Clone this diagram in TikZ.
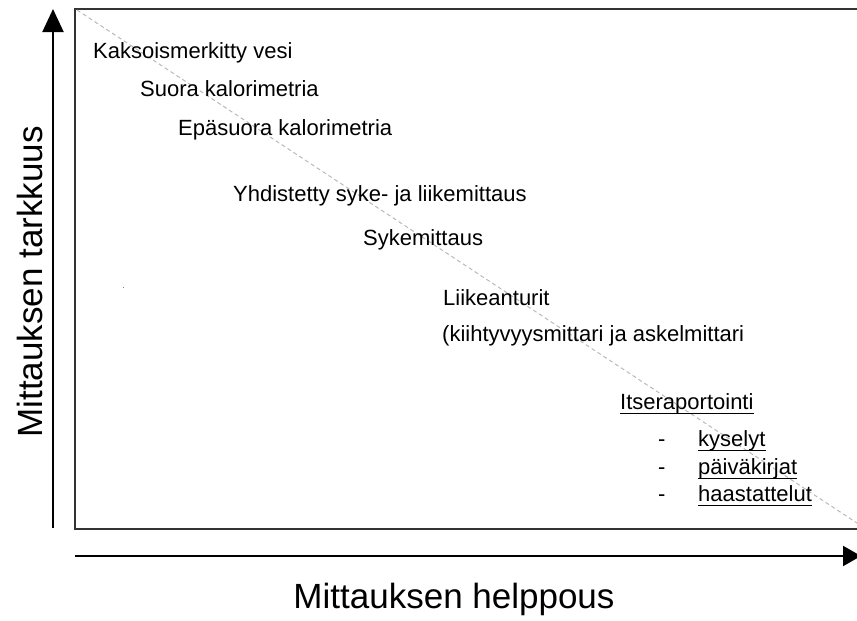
\documentclass[tikz,border=0pt]{standalone}
\usepackage{fontspec}
\setmainfont{Liberation Sans}
\usetikzlibrary{arrows.meta}

\begin{document}
\begin{tikzpicture}[x=1pt, y=-1pt]
  \tikzset{lbl/.style={inner sep=0pt, anchor=base west, font=\fontsize{22}{26}\selectfont},
           axlbl/.style={inner sep=0pt, anchor=base, font=\fontsize{35}{42}\selectfont}}
  \useasboundingbox (0,0) rectangle (857,621);

	%box
 \def\xl{75};
 \def\xr{857};
 \def\yt{9};
 \def\yb{529};
    \coordinate (TL) at (\xl,\yt);
    \coordinate (TR) at (\xr,\yt);
    \coordinate (BL) at (\xl,\yb);
    \coordinate (BR) at (\xr,\yb);
    \draw[line width=1.6pt, black!80] (TR) -- (TL) -- (BL) -- (BR);

	%diagonal
    \coordinate (D1) at (77,10);
    \coordinate (D2) at (857,523);
    \draw[gray!55, line width=1pt, dash pattern=on 4pt off 3pt] (D1) -- (D2);

	%axes
    \coordinate (Y0) at (53,528);
    \coordinate (Y1) at (53,9);
    \coordinate (X0) at (75,556);
    \coordinate (X1) at (861,556);
    \draw[line width=2pt, -{Triangle[width=21pt,length=23pt]}] (Y0) -- (Y1);
    \draw[line width=2pt, -{Triangle[width=20pt,length=18pt]}] (X0) -- (X1);

    \node[axlbl, rotate=90] (ytxt) at (42,282) {Mittauksen tarkkuus};
    \node[axlbl] (xtxt) at (454,608) {Mittauksen helppous};

	%methods
    \foreach \x/\y/\txt/\name in {93/58/Kaksoismerkitty vesi/kv, 140/96/Suora kalorimetria/sk,
        178/135/Epäsuora kalorimetria/ek, 233/201/Yhdistetty syke- ja liikemittaus/yl,
        363/245/Sykemittaus/sy, 443/305/Liikeanturit/la,
        442/341/(kiihtyvyysmittari ja askelmittari/km, 620/409/Itseraportointi/ir}{
        \node[lbl] (\name) at (\x,\y) {\txt};
    }

    \foreach \y/\txt/\name in {446/kyselyt/ky, 474/päiväkirjat/pk, 501/haastattelut/ha}{
        \node[lbl] (d\name) at (658,\y) {-};
        \node[lbl] (\name) at (698,\y) {\txt};
    }

	%underlines
    \foreach \name in {ir,ky,pk,ha}{
        \draw[line width=1pt] ([yshift=-4pt]\name.base west) -- ([yshift=-4pt]\name.base east);
    }

    \fill[gray] (122.5,286.5) rectangle (124,288);

\end{tikzpicture}
\end{document}
